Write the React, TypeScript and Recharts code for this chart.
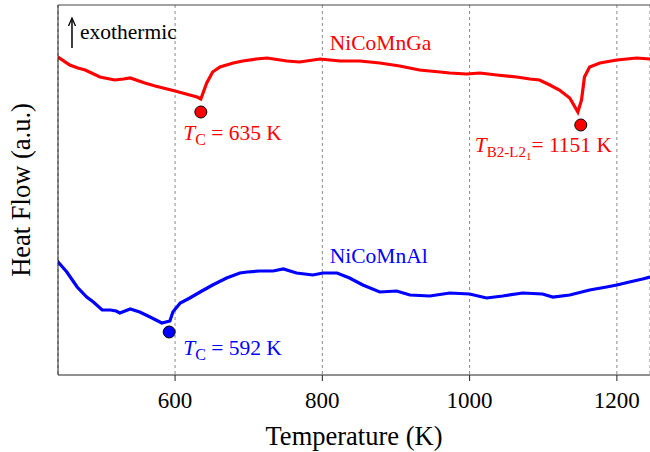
import React from 'react'
import {
  ComposedChart, Line, Scatter, XAxis, YAxis, CartesianGrid, ReferenceDot, ReferenceLine,
} from 'recharts'

// temperature (K) / heat flow (a.u.)
const gaTemp = [441, 457, 468, 478, 498, 518, 530, 539, 559, 573, 600, 620, 630, 635, 643, 651, 661, 679, 692, 710, 725, 752, 769, 797, 824, 851, 878, 905, 932, 960, 973, 996, 1014, 1037, 1064, 1082, 1095, 1109, 1122, 1136, 1147, 1152, 1156, 1163, 1177, 1200, 1227, 1245]
const gaFlow = [318, 310, 307, 305, 298, 295, 296, 297, 292, 289, 284, 280, 278, 276, 292, 303, 308, 312, 314, 316, 317, 314, 313, 316, 314, 314, 312, 309, 305, 303, 302, 301, 302, 300, 298, 296, 295, 290, 285, 277, 263, 275, 298, 308, 312, 315, 317, 316]

const alTemp = [440, 453, 467, 480, 489, 501, 512, 520, 525, 532, 539, 552, 566, 582, 593, 597, 607, 620, 634, 651, 670, 688, 698, 715, 733, 747, 765, 787, 801, 820, 837, 855, 878, 901, 919, 946, 973, 1000, 1023, 1045, 1072, 1099, 1113, 1136, 1163, 1186, 1200, 1217, 1235, 1245]
const alFlow = [114, 103, 88, 78, 73, 65, 65, 64, 62, 64, 66, 63, 58, 52, 54, 63, 72, 77, 83, 90, 97, 102, 103, 104, 104, 106, 102, 100, 102, 102, 97, 90, 83, 84, 80, 79, 82, 81, 77, 79, 82, 81, 78, 80, 85, 88, 90, 93, 96, 98]

const gaMarks = [{ t: 635, v: 263 }, { t: 1151, v: 250 }]
const alMarks = [{ t: 592, v: 43 }]

const xTicks = [600, 800, 1000, 1200]

const gaData = gaTemp.map((t, i) => ({ t, v: gaFlow[i] }))
const alData = alTemp.map((t, i) => ({ t, v: alFlow[i] }))

const RED = '#ff0000'
const BLUE = '#0000ff'
const FONT = '"Liberation Serif", "Times New Roman", serif'
const ANN = 21.5

const plain = (text: string, color: string) => (props: any) => {
  const { x, y } = props.viewBox
  return (
    <text x={x} y={y} fill={color} fontSize={ANN} fontFamily={FONT}>{text}</text>
  )
}

const tc = (value: string, color: string) => (props: any) => {
  const { x, y } = props.viewBox
  return (
    <text x={x} y={y} fill={color} fontSize={ANN} fontFamily={FONT}>
      <tspan fontStyle="italic">T</tspan>
      <tspan fontSize={16} dy={5}>C</tspan>
      <tspan dy={-5}>{' = ' + value}</tspan>
    </text>
  )
}

const tb2 = (value: string, color: string) => (props: any) => {
  const { x, y } = props.viewBox
  return (
    <text x={x} y={y} fill={color} fontSize={ANN} fontFamily={FONT}>
      <tspan fontStyle="italic">T</tspan>
      <tspan fontSize={15} dy={5}>B2-L2</tspan>
      <tspan fontSize={11} dy={3}>1</tspan>
      <tspan dy={-8}>{'= ' + value}</tspan>
    </text>
  )
}

const exo = (props: any) => {
  const { x, y } = props.viewBox
  return (
    <g>
      <line x1={x} y1={y + 30} x2={x} y2={y + 2} stroke="#000" strokeWidth={1.5} />
      <path d={`M${x - 3.5},${y + 8} L${x},${y} L${x + 3.5},${y + 8}`} fill="none" stroke="#000" strokeWidth={1.3} />
      <text x={x + 8} y={y + 21} fill="#000" fontSize={ANN} fontFamily={FONT}>exothermic</text>
    </g>
  )
}

const yTitle = (props: any) => {
  const cx = 21
  const cy = 190
  return (
    <text x={cx} y={cy} transform={`rotate(-90 ${cx} ${cy})`} textAnchor="middle" dominantBaseline="central"
      fontSize={26.5} fontFamily={FONT} fill="#000">Heat Flow (a.u.)</text>
  )
}

const xTitle = (props: any) => {
  const { x, y, width } = props.viewBox
  return (
    <text x={x + width / 2} y={y + 70} textAnchor="middle" fontSize={26.5} fontFamily={FONT} fill="#000">Temperature (K)</text>
  )
}

export default function App() {
  return (
    <div style={{ position: 'absolute', left: 0, top: 0, background: '#fff' }}>
      <ComposedChart width={650} height={452} margin={{ top: 5, right: 0, bottom: 0, left: 0 }}>
        <CartesianGrid vertical horizontal={false} stroke="#888" strokeDasharray="3 3" />
        <XAxis
          dataKey="t" type="number" domain={[441, 1245]} ticks={xTicks} allowDataOverflow
          height={77} tickSize={6} tickMargin={11} stroke="#222"
          tick={{ fontSize: 23, fontFamily: FONT, fill: '#000' }}
          label={{ content: xTitle }}
        />
        <YAxis
          type="number" domain={[0, 370]} allowDataOverflow width={58}
          tick={false} tickLine={false} stroke="#222"
          label={{ content: yTitle }}
        />
        <ReferenceLine y={370} stroke="#444" />
        <Line data={gaData} dataKey="v" type="linear" stroke={RED} strokeWidth={3.2} dot={false} isAnimationActive={false} />
        <Line data={alData} dataKey="v" type="linear" stroke={BLUE} strokeWidth={3.2} dot={false} isAnimationActive={false} />
        <Scatter data={gaMarks} dataKey="v" fill={RED} stroke="#000" strokeWidth={1}
          shape={(p: any) => <circle cx={p.cx} cy={p.cy} r={6} fill={RED} stroke="#000" />} isAnimationActive={false} />
        <Scatter data={alMarks} dataKey="v" fill={BLUE} stroke="#000" strokeWidth={1}
          shape={(p: any) => <circle cx={p.cx} cy={p.cy} r={6} fill={BLUE} stroke="#000" />} isAnimationActive={false} />
        <ReferenceDot x={810} y={325} r={0} stroke="none" label={{ content: plain('NiCoMnGa', RED) }} />
        <ReferenceDot x={810} y={112} r={0} stroke="none" label={{ content: plain('NiCoMnAl', BLUE) }} />
        <ReferenceDot x={611} y={235} r={0} stroke="none" label={{ content: tc('635 K', RED) }} />
        <ReferenceDot x={1007} y={223} r={0} stroke="none" label={{ content: tb2('1151 K', RED) }} />
        <ReferenceDot x={611} y={20} r={0} stroke="none" label={{ content: tc('592 K', BLUE) }} />
        <ReferenceDot x={460} y={357} r={0} stroke="none" label={{ content: exo }} />
      </ComposedChart>
    </div>
  )
}
